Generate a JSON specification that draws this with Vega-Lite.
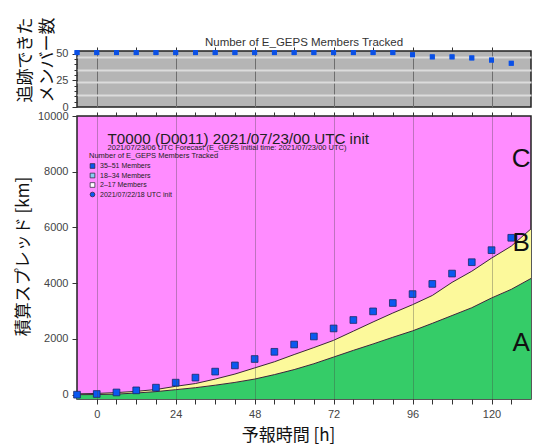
{
  "$schema": "https://vega.github.io/schema/vega-lite/v6.json",
  "padding": {"left": 13, "top": 16, "right": 0, "bottom": 0},
  "background": "white",
  "bounds": "flush",
  "datasets": {
    "curves": [
      {"hour": -6, "lower": 0, "upper": 30},
      {"hour": 0, "lower": 5, "upper": 45},
      {"hour": 6, "lower": 20, "upper": 75},
      {"hour": 12, "lower": 60, "upper": 120},
      {"hour": 18, "lower": 110, "upper": 185},
      {"hour": 24, "lower": 180, "upper": 300},
      {"hour": 30, "lower": 250, "upper": 400},
      {"hour": 36, "lower": 340, "upper": 560},
      {"hour": 42, "lower": 440, "upper": 740},
      {"hour": 48, "lower": 560, "upper": 960},
      {"hour": 54, "lower": 720, "upper": 1180},
      {"hour": 60, "lower": 900, "upper": 1440},
      {"hour": 66, "lower": 1110, "upper": 1690},
      {"hour": 72, "lower": 1350, "upper": 1950},
      {"hour": 78, "lower": 1590, "upper": 2280},
      {"hour": 84, "lower": 1820, "upper": 2610},
      {"hour": 90, "lower": 2060, "upper": 2930},
      {"hour": 96, "lower": 2290, "upper": 3230},
      {"hour": 102, "lower": 2560, "upper": 3560},
      {"hour": 108, "lower": 2840, "upper": 4030},
      {"hour": 114, "lower": 3120, "upper": 4430},
      {"hour": 120, "lower": 3470, "upper": 4900},
      {"hour": 126, "lower": 3780, "upper": 5330},
      {"hour": 132, "lower": 4170, "upper": 5950}
    ],
    "points": [
      {"hour": -6, "spread": 0, "tracked": 51, "group": "35–51 Members"},
      {"hour": 0, "spread": 25, "tracked": 51, "group": "35–51 Members"},
      {"hour": 6, "spread": 80, "tracked": 51, "group": "35–51 Members"},
      {"hour": 12, "spread": 155, "tracked": 51, "group": "35–51 Members"},
      {"hour": 18, "spread": 252, "tracked": 51, "group": "35–51 Members"},
      {"hour": 24, "spread": 432, "tracked": 51, "group": "35–51 Members"},
      {"hour": 30, "spread": 612, "tracked": 51, "group": "35–51 Members"},
      {"hour": 36, "spread": 828, "tracked": 51, "group": "35–51 Members"},
      {"hour": 42, "spread": 1050, "tracked": 51, "group": "35–51 Members"},
      {"hour": 48, "spread": 1280, "tracked": 51, "group": "35–51 Members"},
      {"hour": 54, "spread": 1538, "tracked": 51, "group": "35–51 Members"},
      {"hour": 60, "spread": 1800, "tracked": 51, "group": "35–51 Members"},
      {"hour": 66, "spread": 2089, "tracked": 51, "group": "35–51 Members"},
      {"hour": 72, "spread": 2377, "tracked": 51, "group": "35–51 Members"},
      {"hour": 78, "spread": 2680, "tracked": 51, "group": "35–51 Members"},
      {"hour": 84, "spread": 2989, "tracked": 51, "group": "35–51 Members"},
      {"hour": 90, "spread": 3290, "tracked": 51, "group": "35–51 Members"},
      {"hour": 96, "spread": 3610, "tracked": 49, "group": "35–51 Members"},
      {"hour": 102, "spread": 3975, "tracked": 47, "group": "35–51 Members"},
      {"hour": 108, "spread": 4346, "tracked": 47, "group": "35–51 Members"},
      {"hour": 114, "spread": 4754, "tracked": 46, "group": "35–51 Members"},
      {"hour": 120, "spread": 5186, "tracked": 44, "group": "35–51 Members"},
      {"hour": 126, "spread": 5630, "tracked": 41, "group": "35–51 Members"}
    ]
  },
  "config": {
    "view": {"stroke": "#222", "strokeWidth": 1.5},
    "axis": {
      "labelFont": "Liberation Sans", "labelFontSize": 11, "labelColor": "#444",
      "tickColor": "#333", "tickSize": 5, "labelPadding": 4, "domain": false,
      "titleFont": "Noto Sans CJK JP", "titleFontWeight": "normal", "titleColor": "#111", "titleFontSize": 17
    },
    "legend": {
      "orient": "none", "legendX": 12, "legendY": 101, "padding": 0,
      "titleFont": "Liberation Sans", "titleFontSize": 7.5, "titleFontWeight": "normal", "titleColor": "#222", "titlePadding": 3,
      "labelFont": "Liberation Sans", "labelFontSize": 7, "labelColor": "#222", "labelOffset": 4,
      "symbolSize": 22, "symbolStrokeColor": "#223", "symbolStrokeWidth": 0.7, "rowPadding": 0.5
    }
  },
  "vconcat": [
    {
      "width": 454, "height": 56,
      "view": {"fill": "#b5b5b5", "stroke": "#222", "strokeWidth": 1.5},
      "data": {"name": "points"},
      "layer": [
        {
          "mark": {"type": "square", "size": 24, "filled": true, "color": "#0a50e6", "opacity": 1},
          "encoding": {
            "x": {"field": "hour", "type": "quantitative", "scale": {"domain": [-6, 132], "nice": false, "zero": false},
              "axis": {"orient": "top", "title": null, "labels": false, "tickSize": 4,
                "values": [0,6,12,18,24,30,36,42,48,54,60,66,72,78,84,90,96,102,108,114,120,126],
                "grid": true, "gridColor": "#6e6e6e", "gridWidth": 1,
                "gridOpacity": {"condition": {"test": "datum.value % 24 === 0", "value": 1}, "value": 0}}},
            "y": {"field": "tracked", "type": "quantitative", "scale": {"domain": [0, 52.5], "nice": false},
              "axis": {"title": ["追跡できた", "メンバー数"], "titleAngle": -90, "titleAlign": "left", "titleBaseline": "middle",
                "titleLineHeight": 22, "titleX": -52, "titleY": 51,
                "values": [0,5,10,15,20,25,30,35,40,45,50],
                "labelExpr": "datum.value % 25 === 0 ? datum.label : ''",
                "tickSize": {"condition": {"test": "datum.value % 25 === 0", "value": 5}, "value": 3},
                "grid": false}}
          }
        },
        {
          "mark": {"type": "square", "size": 24, "filled": true, "color": "#0a50e6", "opacity": 1},
          "encoding": {
            "x": {"field": "hour", "type": "quantitative"},
            "y": {"field": "tracked", "type": "quantitative",
              "axis": {"orient": "right", "title": null, "labels": false, "ticks": false, "domain": false,
                "values": [11.7, 23.3, 35, 46.7], "grid": true, "gridColor": "#dcdcdc", "gridWidth": 2}}
          }
        },
        {
          "data": {"values": [{}]},
          "mark": {"type": "text", "text": "Number of E_GEPS Members Tracked", "font": "Liberation Sans", "fontSize": 11.5, "color": "#333", "align": "center", "baseline": "alphabetic"},
          "encoding": {"x": {"datum": 63, "type": "quantitative"}, "y": {"datum": 57, "type": "quantitative", "axis": null}}
        }
      ],
      "resolve": {"axis": {"y": "independent"}}
    },
    {
      "width": 454, "height": 283,
      "view": {"fill": "#ff8cff", "stroke": "#222", "strokeWidth": 1.5},
      "layer": [
        {
          "data": {"name": "curves"},
          "mark": {"type": "area", "color": "#35cc68", "opacity": 1},
          "encoding": {
            "x": {"field": "hour", "type": "quantitative", "scale": {"domain": [-6, 132], "nice": false, "zero": false},
              "axis": {"title": "予報時間 [h]", "titleX": 211, "titleY": 41, "titleAlign": "center", "titleBaseline": "alphabetic",
                "values": [0,6,12,18,24,30,36,42,48,54,60,66,72,78,84,90,96,102,108,114,120,126],
                "labelExpr": "datum.value % 24 === 0 ? datum.label : ''",
                "grid": true, "gridColor": "#444", "zindex": 1,
                "gridOpacity": {"condition": {"test": "datum.value % 24 === 0", "value": 0.35}, "value": 0}}},
            "y": {"field": "lower", "type": "quantitative", "scale": {"domain": [-155, 10000], "nice": false, "zero": false},
              "axis": {"title": "積算スプレッド [km]", "titleAngle": -90, "titleAlign": "center", "titleBaseline": "middle",
                "titleX": -54, "titleY": 140, "format": "d",
                "values": [0,1000,2000,3000,4000,5000,6000,7000,8000,9000,10000], "grid": false}},
            "y2": {"datum": -155}
          }
        },
        {
          "data": {"name": "curves"},
          "mark": {"type": "area", "color": "#fcf99b", "opacity": 1},
          "encoding": {
            "x": {"field": "hour", "type": "quantitative",
              "axis": {"orient": "top", "title": null, "labels": false, "tickSize": 4, "grid": false,
                "values": [0,6,12,18,24,30,36,42,48,54,60,66,72,78,84,90,96,102,108,114,120,126]}},
            "y": {"field": "upper", "type": "quantitative"},
            "y2": {"field": "lower"}
          }
        },
        {
          "data": {"name": "curves"},
          "mark": {"type": "line", "color": "#3a2838", "strokeWidth": 1},
          "encoding": {
            "x": {"field": "hour", "type": "quantitative", "axis": null},
            "y": {"field": "upper", "type": "quantitative"}
          }
        },
        {
          "data": {"name": "curves"},
          "mark": {"type": "line", "color": "#3a2838", "strokeWidth": 1},
          "encoding": {
            "x": {"field": "hour", "type": "quantitative", "axis": null},
            "y": {"field": "lower", "type": "quantitative"}
          }
        },
        {
          "data": {"name": "points"},
          "mark": {"type": "point", "filled": true, "size": 45, "stroke": "#1a2a6a", "strokeWidth": 0.8, "opacity": 1},
          "encoding": {
            "x": {"field": "hour", "type": "quantitative", "axis": null},
            "y": {"field": "spread", "type": "quantitative"},
            "color": {"field": "group", "type": "nominal", "title": "Number of E_GEPS Members Tracked",
              "scale": {"domain": ["35–51 Members", "18–34 Members", "2–17 Members", "2021/07/22/18 UTC init"],
                "range": ["#0a58f0", "#86cdf2", "#ffffff", "#0a58f0"]}},
            "shape": {"field": "group", "type": "nominal", "title": "Number of E_GEPS Members Tracked",
              "scale": {"domain": ["35–51 Members", "18–34 Members", "2–17 Members", "2021/07/22/18 UTC init"],
                "range": ["square", "square", "square", "circle"]}}
          }
        },
        {
          "data": {"values": [{}]},
          "mark": {"type": "text", "text": "T0000 (D0011) 2021/07/23/00 UTC init", "font": "Liberation Sans", "fontSize": 15.2, "color": "#222", "align": "left", "baseline": "alphabetic"},
          "encoding": {"x": {"datum": 3.3, "type": "quantitative", "axis": null}, "y": {"datum": 9000, "type": "quantitative"}}
        },
        {
          "data": {"values": [{}]},
          "mark": {"type": "text", "text": "2021/07/23/06 UTC Forecast (E_GEPS initial time: 2021/07/23/00 UTC)", "font": "Liberation Sans", "fontSize": 7.5, "color": "#222", "align": "left", "baseline": "alphabetic"},
          "encoding": {"x": {"datum": 3.3, "type": "quantitative", "axis": null}, "y": {"datum": 8790, "type": "quantitative"}}
        },
        {
          "data": {"values": [{}]},
          "mark": {"type": "text", "text": "C", "font": "Liberation Sans", "fontSize": 26, "color": "#111", "align": "center", "baseline": "middle"},
          "encoding": {"x": {"datum": 129, "type": "quantitative", "axis": null}, "y": {"datum": 8460, "type": "quantitative"}}
        },
        {
          "data": {"values": [{}]},
          "mark": {"type": "text", "text": "B", "font": "Liberation Sans", "fontSize": 26, "color": "#111", "align": "center", "baseline": "middle"},
          "encoding": {"x": {"datum": 129, "type": "quantitative", "axis": null}, "y": {"datum": 5440, "type": "quantitative"}}
        },
        {
          "data": {"values": [{}]},
          "mark": {"type": "text", "text": "A", "font": "Liberation Sans", "fontSize": 26, "color": "#111", "align": "center", "baseline": "middle"},
          "encoding": {"x": {"datum": 129, "type": "quantitative", "axis": null}, "y": {"datum": 1850, "type": "quantitative"}}
        }
      ],
      "resolve": {"axis": {"x": "independent"}}
    }
  ],
  "spacing": 9
}
